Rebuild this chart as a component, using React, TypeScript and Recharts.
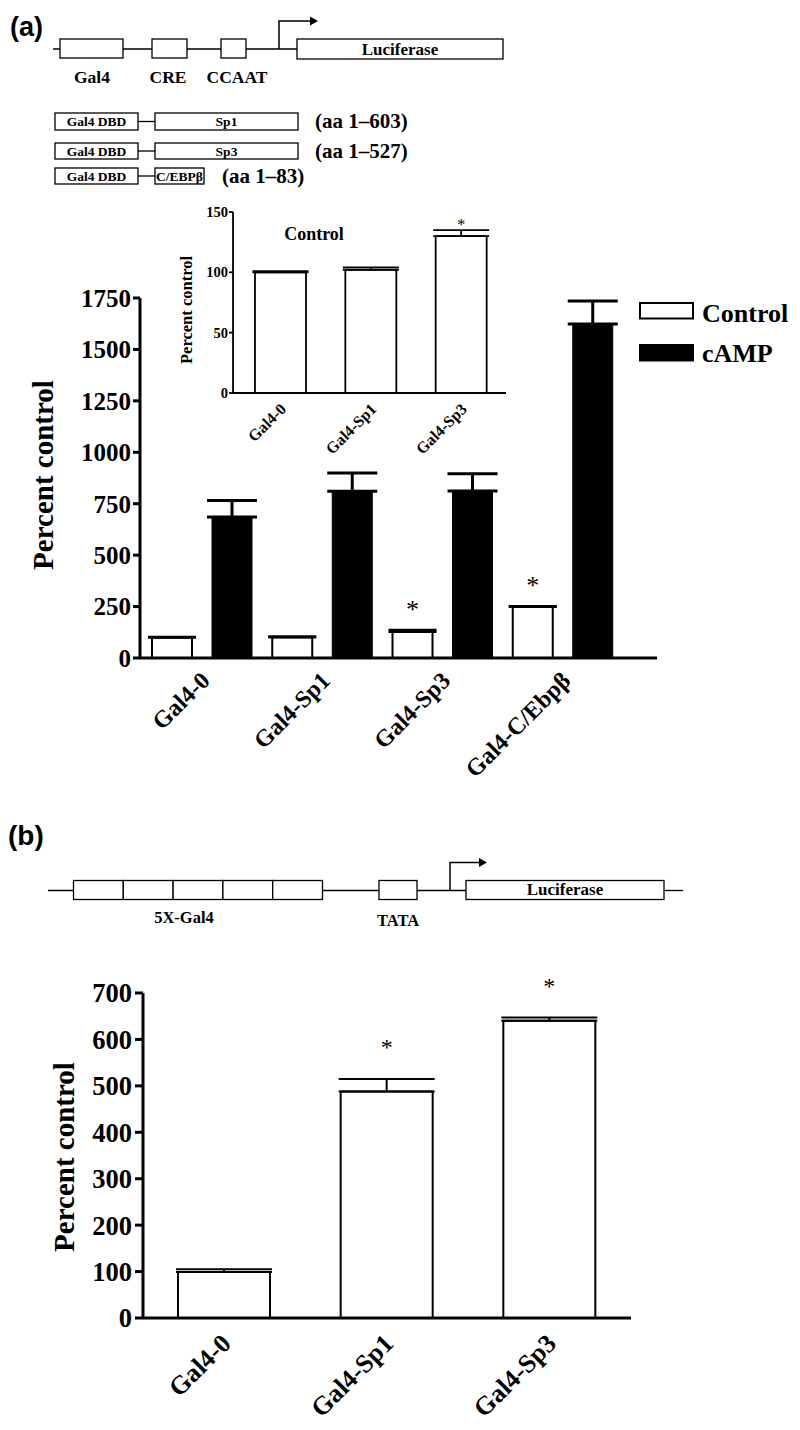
import { Bar, BarChart, ErrorBar, LabelList, XAxis, YAxis } from "recharts";

const SERIF = "'Liberation Serif', 'Times New Roman', serif";
const SANS = "'Liberation Sans', Arial, sans-serif";

// panel (a): main chart
const constructsA = ["Gal4-0", "Gal4-Sp1", "Gal4-Sp3", "Gal4-C/Ebpβ"];
const controlA = [100, 101, 128, 249];
const controlErrA = [2, 4, 8, 3];
const campA = [686, 810, 812, 1624];
const campErrA = [80, 89, 84, 112];
const controlSigA = [false, false, true, true];
const ticksA = [0, 250, 500, 750, 1000, 1250, 1500, 1750];
const seriesA = [
  { key: "control", name: "Control", fill: "#fff" },
  { key: "camp", name: "cAMP", fill: "#000" },
];

// panel (a): inset, control only
const constructsInset = ["Gal4-0", "Gal4-Sp1", "Gal4-Sp3"];
const controlInset = [100, 102, 130];
const controlErrInset = [1, 2, 5];
const sigInset = [false, false, true];
const ticksInset = [0, 50, 100, 150];

// panel (b)
const constructsB = ["Gal4-0", "Gal4-Sp1", "Gal4-Sp3"];
const valuesB = [99, 488, 640];
const errB = [6, 27, 7];
const sigB = [false, true, true];
const ticksB = [0, 100, 200, 300, 400, 500, 600, 700];

const dataA = constructsA.map((name, i) => ({
  name,
  control: controlA[i],
  controlErr: [0, controlErrA[i]],
  camp: campA[i],
  campErr: [0, campErrA[i]],
}));
const dataInset = constructsInset.map((name, i) => ({
  name, value: controlInset[i], err: [0, controlErrInset[i]],
}));
const dataB = constructsB.map((name, i) => ({
  name, value: valuesB[i], err: [0, errB[i]],
}));

// asterisk above the error cap of significant bars
function starLabel(values: number[], errs: number[], sig: boolean[], gap: number, size: number) {
  return (props: any) => {
    const i = props.index;
    if (!sig[i]) return null;
    const vb = props.viewBox ?? props;
    const x = Number(vb.x), y = Number(vb.y), w = Number(vb.width), h = Number(vb.height);
    const capY = y - errs[i] * (h / values[i]);
    const cy = capY - gap;
    return (
      <text x={x + w / 2} y={cy + size * 0.48} textAnchor="middle"
            fontFamily={SERIF} fontSize={size} fill="#000">*</text>
    );
  };
}

function slantTick(dx: number, dy: number, size: number) {
  return (props: any) => {
    const ax = props.x + dx, ay = props.y + dy;
    return (
      <text x={ax} y={ay} transform={`rotate(-45 ${ax} ${ay})`} textAnchor="end"
            fontFamily={SERIF} fontWeight="bold" fontSize={size} fill="#000">
        {props.payload.value}
      </text>
    );
  };
}

function sideLabel(bx: number, cy: number, size: number) {
  return () => (
    <text x={bx} y={cy} transform={`rotate(-90 ${bx} ${cy})`} textAnchor="middle"
          fontFamily={SERIF} fontWeight="bold" fontSize={size} fill="#000">
      Percent control
    </text>
  );
}

const ln = { stroke: "#000", strokeWidth: 1.3, fill: "#fff" };
const boxText = { fontFamily: SERIF, fontWeight: "bold" as const, fill: "#000", textAnchor: "middle" as const };

function Diagrams() {
  const rows = [
    { y: 113, h: 17, part: "Sp1", end: 298, aa: "(aa 1–603)", aaX: 315 },
    { y: 143, h: 16, part: "Sp3", end: 298, aa: "(aa 1–527)", aaX: 315 },
    { y: 168, h: 16, part: "C/EBPβ", end: 204, aa: "(aa 1–83)", aaX: 222 },
  ];
  return (
    <svg width={800} height={1430} style={{ position: "absolute", left: 0, top: 0 }}>
      {/* (a) reporter */}
      <text x={10} y={36} fontFamily={SANS} fontWeight="bold" fontSize={27}>(a)</text>
      <line x1={53} y1={49} x2={297} y2={49} stroke="#000" strokeWidth={1.3} />
      <rect x={60} y={39} width={63} height={19} {...ln} />
      <rect x={152} y={39} width={35} height={19} {...ln} />
      <rect x={221} y={39} width={25} height={19} {...ln} />
      <path d="M279 49 V21 H311" fill="none" stroke="#000" strokeWidth={1.5} />
      <polygon points="310,16.5 318,21 310,25.5" fill="#000" />
      <rect x={297} y={39} width={206} height={20} {...ln} />
      <text x={400} y={55} fontSize={17} {...boxText}>Luciferase</text>
      <text x={92} y={83} fontSize={17.5} {...boxText}>Gal4</text>
      <text x={168} y={83} fontSize={17.5} {...boxText}>CRE</text>
      <text x={237} y={83} fontSize={17.5} {...boxText}>CCAAT</text>
      {rows.map((r) => (
        <g key={r.part}>
          <rect x={55} y={r.y} width={83} height={r.h} {...ln} />
          <line x1={138} y1={r.y + r.h / 2} x2={155} y2={r.y + r.h / 2} stroke="#000" strokeWidth={1.3} />
          <rect x={155} y={r.y} width={r.end - 155} height={r.h} {...ln} />
          <text x={96.5} y={r.y + 13} fontSize={13.5} {...boxText}>Gal4 DBD</text>
          <text x={(155 + r.end) / 2} y={r.y + 13} fontSize={13.5} {...boxText}>{r.part}</text>
          <text x={r.aaX} y={r.y + 15} fontFamily={SERIF} fontWeight="bold" fontSize={21}>{r.aa}</text>
        </g>
      ))}

      {/* inset title */}
      <text x={314} y={240} fontSize={18} {...boxText}>Control</text>

      {/* legend of main chart */}
      {seriesA.map((s, i) => (
        <g key={s.key}>
          <rect x={640} y={303 + i * 42} width={53} height={15.5} fill={s.fill} stroke="#000" strokeWidth={2} />
          <text x={702} y={322 + i * 40} fontFamily={SERIF} fontWeight="bold" fontSize={26}>{s.name}</text>
        </g>
      ))}

      {/* (b) reporter */}
      <text x={8} y={845} fontFamily={SANS} fontWeight="bold" fontSize={28}>(b)</text>
      <line x1={48} y1={890.5} x2={466} y2={890.5} stroke="#000" strokeWidth={1.3} />
      <line x1={664} y1={890.5} x2={683} y2={890.5} stroke="#000" strokeWidth={1.3} />
      {[73.5, 123.3, 173.1, 222.9, 272.7].map((x) => (
        <rect key={x} x={x} y={880.5} width={49.8} height={19} {...ln} />
      ))}
      <rect x={379} y={880.5} width={38} height={19} {...ln} />
      <path d="M450 890.5 V862.5 H480" fill="none" stroke="#000" strokeWidth={1.5} />
      <polygon points="479,858 487,862.5 479,867" fill="#000" />
      <rect x={466} y={880.5} width={198} height={19} {...ln} />
      <text x={565} y={895} fontSize={17} {...boxText}>Luciferase</text>
      <text x={184} y={923} fontSize={16.5} {...boxText}>5X-Gal4</text>
      <text x={398} y={926} fontSize={16.5} {...boxText}>TATA</text>
    </svg>
  );
}

const axis3 = { stroke: "#000", strokeWidth: 3 };
const axis2 = { stroke: "#000", strokeWidth: 1.8 };

export default function App() {
  return (
    <div style={{ position: "absolute", left: 0, top: 0, width: 800, height: 1430, background: "#fff" }}>
      <Diagrams />

      {/* panel (a) main chart */}
      <div style={{ position: "absolute", left: 0, top: 280 }}>
        <BarChart width={800} height={525} data={dataA} barGap={20}
                  margin={{ top: 18, right: 143, left: 40, bottom: 0 }}>
          <XAxis dataKey="name" height={147} interval={0} axisLine={axis3} tickLine={false}
                 tickSize={0} tickMargin={0} padding={{ left: 2, right: 34 }}
                 tick={slantTick(9, 24, 24)} />
          <YAxis width={100} domain={[0, 1750]} ticks={ticksA} interval={0}
                 axisLine={axis3} tickLine={axis3} tickSize={7} tickMargin={2}
                 tick={{ fill: "#000", fontSize: 25, fontWeight: "bold", fontFamily: SERIF }}
                 label={{ content: sideLabel(53, 195, 29) }} />
          <Bar dataKey="control" name="Control" fill="#fff" stroke="#000" strokeWidth={2}
               barSize={40} isAnimationActive={false}>
            <ErrorBar dataKey="controlErr" width={24} stroke="#000" strokeWidth={2.5} isAnimationActive={false} />
            <LabelList dataKey="control" content={starLabel(controlA, controlErrA, controlSigA, 25, 26)} />
          </Bar>
          <Bar dataKey="camp" name="cAMP" fill="#000" stroke="#000" strokeWidth={1}
               barSize={40} isAnimationActive={false}>
            <ErrorBar dataKey="campErr" width={25} stroke="#000" strokeWidth={3} isAnimationActive={false} />
          </Bar>
        </BarChart>
      </div>

      {/* panel (a) inset */}
      <div style={{ position: "absolute", left: 150, top: 200 }}>
        <BarChart width={370} height={290} data={dataInset}
                  margin={{ top: 12, right: 14, left: 43, bottom: 0 }}>
          <XAxis dataKey="name" height={97} interval={0} axisLine={axis2} tickLine={false}
                 tickSize={0} tickMargin={0} padding={{ left: 2, right: 0 }}
                 tick={slantTick(7, 17, 16)} />
          <YAxis width={40} domain={[0, 150]} ticks={ticksInset} interval={0}
                 axisLine={axis2} tickLine={axis2} tickSize={4} tickMargin={1}
                 tick={{ fill: "#000", fontSize: 14.5, fontWeight: "bold", fontFamily: SERIF }}
                 label={{ content: sideLabel(42, 110, 16.5) }} />
          <Bar dataKey="value" name="Control" fill="#fff" stroke="#000" strokeWidth={1.8}
               barSize={51} isAnimationActive={false}>
            <ErrorBar dataKey="err" width={28} stroke="#000" strokeWidth={1.8} isAnimationActive={false} />
            <LabelList dataKey="value" content={starLabel(controlInset, controlErrInset, sigInset, 8, 16)} />
          </Bar>
        </BarChart>
      </div>

      {/* panel (b) */}
      <div style={{ position: "absolute", left: 0, top: 955 }}>
        <BarChart width={800} height={475} data={dataB}
                  margin={{ top: 38, right: 169, left: 43, bottom: 0 }}>
          <XAxis dataKey="name" height={112} interval={0} axisLine={axis3} tickLine={false}
                 tickSize={0} tickMargin={0} tick={slantTick(8, 27, 26)} />
          <YAxis width={100} domain={[0, 700]} ticks={ticksB} interval={0}
                 axisLine={axis3} tickLine={axis3} tickSize={8} tickMargin={3}
                 tick={{ fill: "#000", fontSize: 26.5, fontWeight: "bold", fontFamily: SERIF }}
                 label={{ content: sideLabel(74, 202, 29) }} />
          <Bar dataKey="value" name="Control" fill="#fff" stroke="#000" strokeWidth={2}
               barSize={92} isAnimationActive={false}>
            <ErrorBar dataKey="err" width={48} stroke="#000" strokeWidth={2} isAnimationActive={false} />
            <LabelList dataKey="value" content={starLabel(valuesB, errB, sigB, 35, 24)} />
          </Bar>
        </BarChart>
      </div>
    </div>
  );
}
